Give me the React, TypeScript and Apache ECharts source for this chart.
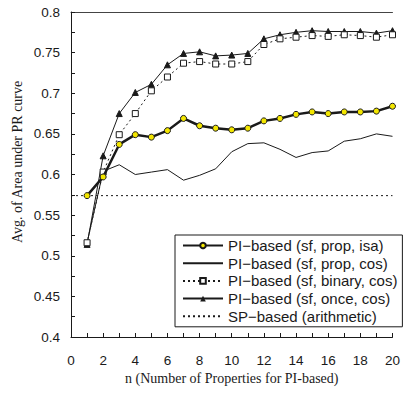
import React, { useEffect, useRef } from "react";
import * as echarts from "echarts";

const nValues = [1, 2, 3, 4, 5, 6, 7, 8, 9, 10, 11, 12, 13, 14, 15, 16, 17, 18, 19, 20];
const propIsa = [0.574, 0.597, 0.637, 0.649, 0.646, 0.654, 0.669, 0.66, 0.657, 0.655, 0.657, 0.666, 0.669, 0.674, 0.677, 0.675, 0.677, 0.677, 0.678, 0.684];
const propCos = [0.516, 0.604, 0.612, 0.6, 0.603, 0.606, 0.593, 0.599, 0.607, 0.628, 0.638, 0.639, 0.631, 0.621, 0.627, 0.629, 0.641, 0.644, 0.65, 0.647];
const binaryCos = [0.516, 0.603, 0.649, 0.675, 0.703, 0.72, 0.737, 0.739, 0.736, 0.736, 0.739, 0.76, 0.767, 0.769, 0.771, 0.77, 0.772, 0.771, 0.769, 0.772];
const onceCos = [0.514, 0.623, 0.675, 0.701, 0.711, 0.735, 0.749, 0.751, 0.746, 0.747, 0.749, 0.767, 0.772, 0.775, 0.777, 0.776, 0.776, 0.776, 0.774, 0.777];
const spBaseline = 0.574;
const spRange = [0, 20];
const seriesNames = [
  "PI−based (sf, prop, isa)",
  "PI−based (sf, prop, cos)",
  "PI−based (sf, binary, cos)",
  "PI−based (sf, once, cos)",
  "SP−based (arithmetic)",
];
const xTitle = "n (Number of Properties for PI-based)";
const yTitle = "Avg. of Area under PR curve";

const pair = (ys: number[]) => nValues.map((n, i) => [n, ys[i]]);

export default function App() {
  const ref = useRef<HTMLDivElement>(null);
  useEffect(() => {
    if (!ref.current) return;
    const chart = echarts.init(ref.current, null, { renderer: "svg" });
    const ink = "#1a1a1a";
    const hidden = { color: "rgba(0,0,0,0)", borderColor: "rgba(0,0,0,0)", opacity: 0 };
    chart.setOption({
      animation: false,
      backgroundColor: "#fff",
      grid: { left: 71, right: 7, top: 12, bottom: 56, containLabel: false },
      graphic: [
        {
          type: "text",
          left: 10,
          top: 80,
          rotation: Math.PI / 2,
          style: { text: yTitle, fontFamily: "Liberation Serif", fontSize: 14, fill: ink },
        },
      ],
      xAxis: [
        {
          type: "value",
          min: 0,
          max: 20,
          interval: 1,
          name: xTitle,
          nameLocation: "middle",
          nameGap: 34,
          nameTextStyle: { fontFamily: "Liberation Serif", fontSize: 14, color: ink },
          axisLine: { show: true, onZero: false, lineStyle: { color: ink, width: 1 } },
          axisTick: { show: true, inside: true, length: 4, lineStyle: { color: ink } },
          axisLabel: {
            margin: 16,
            fontFamily: "Liberation Sans",
            fontSize: 13.5,
            color: ink,
            formatter: (v: number) => (Math.round(v) % 2 === 0 ? String(Math.round(v)) : ""),
          },
          splitLine: { show: false },
        },
        {
          type: "value",
          position: "top",
          min: 0,
          max: 20,
          axisLine: { show: true, onZero: false, lineStyle: { color: "#444", width: 1 } },
          axisTick: { show: false },
          axisLabel: { show: false },
          splitLine: { show: false },
        },
      ],
      yAxis: {
        type: "value",
        min: 0.4,
        max: 0.8,
        interval: 0.025,
        axisLine: { show: true, onZero: false, lineStyle: { color: ink, width: 1 } },
        axisTick: { show: true, inside: true, length: 4, lineStyle: { color: ink } },
        axisLabel: {
          margin: 11,
          fontFamily: "Liberation Sans",
          fontSize: 13.5,
          color: ink,
          formatter: (v: number) => (Math.round(v * 1000) % 50 === 0 ? String(parseFloat(v.toFixed(3))) : ""),
        },
        splitLine: { show: false },
      },
      legend: {
        show: true,
        orient: "vertical",
        left: 175,
        top: 235,
        padding: [3, 5, 3, 7],
        itemGap: 2.7,
        itemWidth: 40,
        itemHeight: 7,
        borderColor: ink,
        borderWidth: 1,
        backgroundColor: "#fff",
        textStyle: { fontFamily: "Liberation Sans", fontSize: 15, color: ink, lineHeight: 15 },
        data: [
          { name: seriesNames[0] },
          { name: seriesNames[1], itemStyle: hidden },
          { name: seriesNames[2] },
          { name: seriesNames[3] },
          { name: seriesNames[4], itemStyle: hidden },
        ],
      },
      series: [
        {
          name: seriesNames[1],
          type: "line",
          data: pair(propCos),
          symbol: "none",
          lineStyle: { color: ink, width: 1 },
          itemStyle: { color: ink },
          z: 2,
        },
        {
          name: seriesNames[4],
          type: "line",
          data: spRange.map((x) => [x, spBaseline]),
          symbol: "none",
          lineStyle: { color: ink, width: 1, type: [2, 3] },
          itemStyle: { color: ink },
          z: 2,
        },
        {
          name: seriesNames[3],
          type: "line",
          data: pair(onceCos),
          symbol: "triangle",
          symbolSize: 6,
          lineStyle: { color: ink, width: 1 },
          itemStyle: { color: ink, borderColor: ink },
          z: 3,
        },
        {
          name: seriesNames[2],
          type: "line",
          data: pair(binaryCos),
          symbol: "rect",
          symbolSize: 6,
          lineStyle: { color: ink, width: 1, type: [2, 3] },
          itemStyle: { color: "#fff", borderColor: ink, borderWidth: 1 },
          z: 4,
        },
        {
          name: seriesNames[0],
          type: "line",
          data: pair(propIsa),
          symbol: "circle",
          symbolSize: 6,
          lineStyle: { color: ink, width: 2.5 },
          itemStyle: { color: "#f3e600", borderColor: ink, borderWidth: 1 },
          z: 5,
        },
      ],
    });
    return () => chart.dispose();
  }, []);
  return <div ref={ref} style={{ width: 403, height: 393, position: "absolute", left: 0, top: 0 }} />;
}
